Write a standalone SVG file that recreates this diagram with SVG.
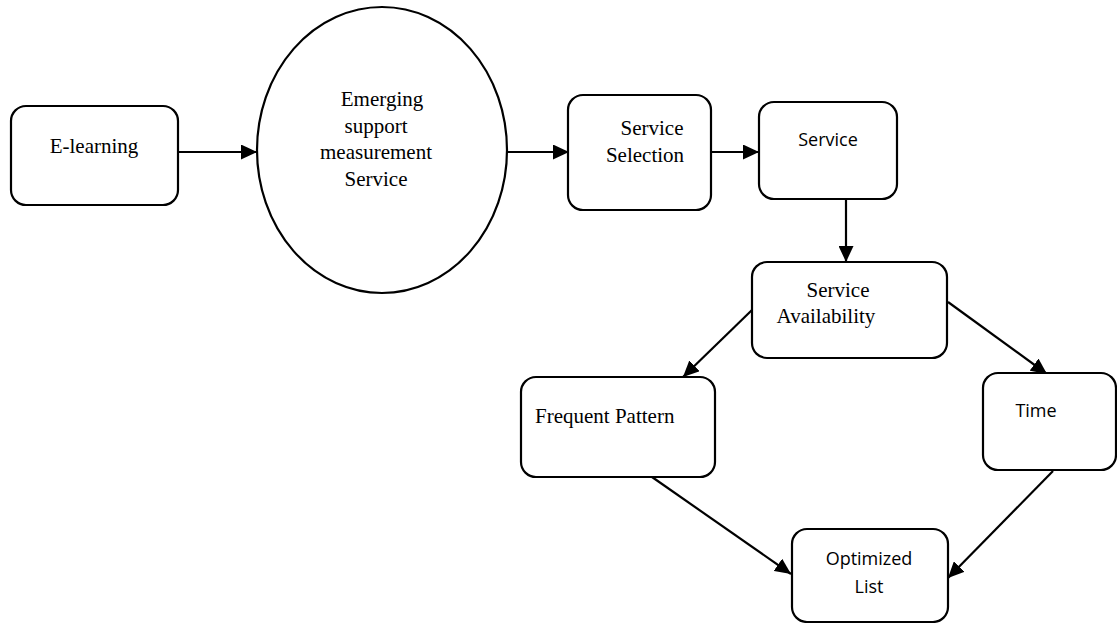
<svg xmlns="http://www.w3.org/2000/svg" width="1117" height="623" viewBox="0 0 1117 623">
<style>
.box{fill:#fff;stroke:#000;stroke-width:2.2}
.serif{font-family:"Liberation Serif","Times New Roman",serif;font-size:21px;fill:#000}
.sans{font-family:"Open Sans","Noto Sans",sans-serif;font-size:18px;fill:#000}
.c{text-anchor:middle}
.edge{stroke:#000;stroke-width:2.2;fill:none;marker-end:url(#arr)}
</style>
<defs>
<marker id="arr" markerUnits="userSpaceOnUse" markerWidth="16" markerHeight="15" refX="16" refY="7.5" orient="auto">
<path d="M0,0 L16,7.5 L0,15 z" fill="#000"/>
</marker>
</defs>
<rect width="1117" height="623" fill="#fff"/>
<g id="connectors">
<line class="edge" x1="178" y1="152" x2="257" y2="152"/>
<line class="edge" x1="507" y1="152" x2="569" y2="152"/>
<line class="edge" x1="711" y1="152" x2="759" y2="152"/>
<line class="edge" x1="846" y1="199" x2="846" y2="262"/>
<line class="edge" x1="752" y1="310" x2="683" y2="377"/>
<line class="edge" x1="948" y1="302" x2="1047" y2="374"/>
<line class="edge" x1="652" y1="477" x2="791" y2="574"/>
<line class="edge" x1="1053" y1="471" x2="948" y2="578"/>
</g>
<g id="elearning">
<rect class="box" x="11" y="106" width="167" height="99" rx="15"/>
<text class="serif c" x="94" y="153">E-learning</text>
</g>
<g id="emerging">
<ellipse class="box" cx="382" cy="150" rx="125" ry="143"/>
<text class="serif c" x="382" y="106">Emerging</text>
<text class="serif c" x="376" y="133">support</text>
<text class="serif c" x="376" y="159">measurement</text>
<text class="serif c" x="376" y="186">Service</text>
</g>
<g id="selection">
<rect class="box" x="568" y="95" width="143" height="115" rx="15"/>
<text class="serif c" x="652" y="135">Service</text>
<text class="serif c" x="645" y="162">Selection</text>
</g>
<g id="service">
<rect class="box" x="759" y="102" width="138" height="97" rx="15"/>
<text class="sans c" x="828" y="146">Service</text>
</g>
<g id="availability">
<rect class="box" x="752" y="262" width="195" height="96" rx="15"/>
<text class="serif c" x="838" y="297">Service</text>
<text class="serif c" x="826" y="323">Availability</text>
</g>
<g id="frequent">
<rect class="box" x="521" y="377" width="194" height="100" rx="15"/>
<text class="serif" x="535" y="423">Frequent Pattern</text>
</g>
<g id="time">
<rect class="box" x="983" y="373" width="133" height="97" rx="15"/>
<text class="sans c" x="1036" y="417">Time</text>
</g>
<g id="optimized">
<rect class="box" x="792" y="529" width="156" height="93" rx="15"/>
<text class="sans c" x="869" y="565">Optimized</text>
<text class="sans c" x="869" y="593">List</text>
</g>
</svg>
